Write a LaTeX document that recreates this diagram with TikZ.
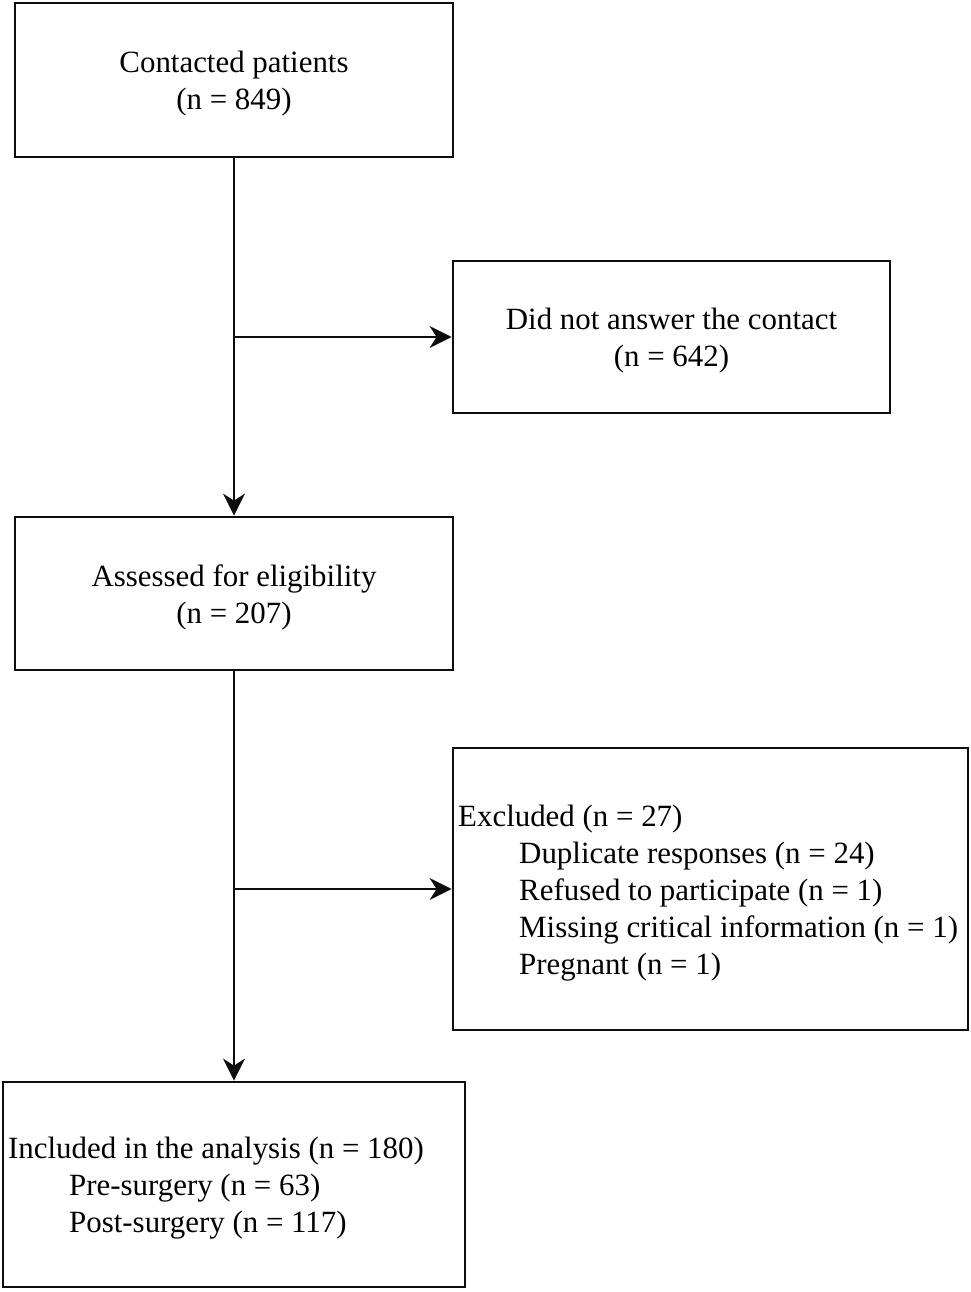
\documentclass[tikz,border=0pt]{standalone}
\usepackage{fontspec}
\setmainfont{Liberation Serif}
\usetikzlibrary{arrows.meta}
\begin{document}
\begin{tikzpicture}[x=1pt,y=-1pt,
  box/.style={draw=black!95,line width=2.8pt,rectangle,inner sep=0pt},
  conn/.style={draw=black!95,line width=2.4pt,-{Stealth[length=22pt,width=22pt,inset=7pt]}},
  txt/.style={font=\fontsize{30.9pt}{37pt}\selectfont,inner sep=0pt}]
\useasboundingbox (0,0) rectangle (971,1292);
\node[box,minimum width=438pt,minimum height=154pt] (contact) at (234,80) {};
\node[txt,align=center] (contactT) at (234,84) {Contacted patients\\(n = 849)};
\node[box,minimum width=437pt,minimum height=152pt] (noans) at (671.5,337) {};
\node[txt,align=center] (noansT) at (671.5,341) {Did not answer the contact\\(n = 642)};
\node[box,minimum width=438pt,minimum height=153pt] (assess) at (234,593.5) {};
\node[txt,align=center] (assessT) at (234,597.5) {Assessed for eligibility\\(n = 207)};
\node[box,minimum width=515pt,minimum height=282pt] (excl) at (710.5,889) {};
\node[txt,align=flush left,anchor=west] (exclT) at (458,893) {Excluded (n = 27)\\
\hspace*{61pt}Duplicate responses (n = 24)\\
\hspace*{61pt}Refused to participate (n = 1)\\
\hspace*{61pt}Missing critical information (n = 1)\\
\hspace*{61pt}Pregnant (n = 1)};
\node[box,minimum width=462pt,minimum height=205pt] (incl) at (234,1184.5) {};
\node[txt,align=flush left,anchor=west] (inclT) at (8,1188.5) {Included in the analysis (n = 180)\\
\hspace*{61pt}Pre-surgery (n = 63)\\
\hspace*{61pt}Post-surgery (n = 117)};
\coordinate (j1) at (234,337);
\coordinate (j2) at (234,889);
\draw[conn] (contact.south) -- (assess.north);
\draw[conn] (j1) -- (noans.west);
\draw[conn] (assess.south) -- (incl.north);
\draw[conn] (j2) -- (excl.west);
\end{tikzpicture}
\end{document}
